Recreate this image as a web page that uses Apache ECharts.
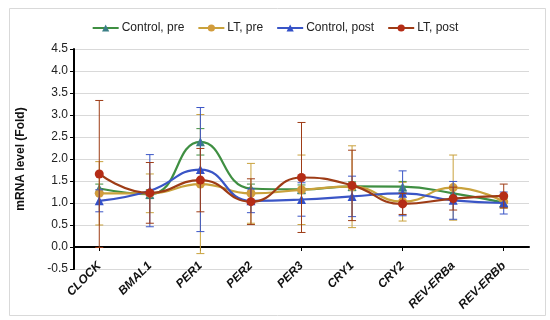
<!DOCTYPE html>
<html>
<head>
<meta charset="utf-8">
<script src="https://cdn.jsdelivr.net/npm/echarts@6/dist/echarts.min.js"></script>
<style>html,body{margin:0;padding:0;background:#fff;}#c{width:550px;height:320px;}</style>
</head>
<body>
<div id="c"></div>
<script>
var categories = ['CLOCK','BMAL1','PER1','PER2','PER3','CRY1','CRY2','REV-ERBa','REV-ERBb'];
var ctrlPre    = [1.33, 1.20, 2.39, 1.33, 1.31, 1.38, 1.37, 1.22, 1.01];
var ctrlPreSD  = [0.10, 0.10, 0.30, 0.10, 0.10, 0.10, 0.12, 0.10, 0.10];
var ltPre      = [1.22, 1.22, 1.43, 1.22, 1.30, 1.37, 1.03, 1.35, 1.03];
var ltPreSD    = [0.72, 0.44, 1.58, 0.68, 0.79, 0.93, 0.44, 0.74, 0.15];
var ctrlPost   = [1.05, 1.28, 1.76, 1.05, 1.08, 1.15, 1.22, 1.06, 1.00];
var ctrlPostSD = [0.25, 0.82, 1.41, 0.27, 0.38, 0.46, 0.51, 0.43, 0.25];
var ltPost     = [1.66, 1.23, 1.52, 1.03, 1.58, 1.40, 0.98, 1.10, 1.16];
var ltPostSD   = [1.67, 0.69, 0.72, 0.52, 1.25, 0.80, 0.24, 0.26, 0.27];
var yTicks = {min: -0.5, max: 4.5, interval: 0.5};

var FONT = 'Liberation Sans, Arial, sans-serif';
var seriesDefs = [
  {name: 'Control, pre',  vals: ctrlPre,  sd: ctrlPreSD,  line: '#3f8f42', mark: '#3a7f86', sym: 'triangle'},
  {name: 'LT, pre',       vals: ltPre,    sd: ltPreSD,    line: '#c9a23c', mark: '#d29c3c', sym: 'circle'},
  {name: 'Control, post', vals: ctrlPost, sd: ctrlPostSD, line: '#3a55c6', mark: '#3350c8', sym: 'triangle'},
  {name: 'LT, post',      vals: ltPost,   sd: ltPostSD,   line: '#9e3c16', mark: '#b52c16', sym: 'circle'}
];

function errSeries(def, z) {
  var data = def.vals.map(function (v, i) { return [i, v - def.sd[i], v + def.sd[i]]; });
  return {
    type: 'custom',
    name: def.name + ' err',
    xAxisIndex: 0,
    z: z,
    silent: true,
    data: data,
    encode: {x: 0, y: [1, 2]},
    renderItem: function (params, api) {
      var i = api.value(0);
      var lo = api.coord([i, api.value(1)]);
      var hi = api.coord([i, api.value(2)]);
      var w = 4;
      var st = {stroke: def.line, lineWidth: 1};
      return {
        type: 'group',
        children: [
          {type: 'line', shape: {x1: hi[0], y1: hi[1], x2: lo[0], y2: lo[1]}, style: st},
          {type: 'line', shape: {x1: hi[0] - w, y1: hi[1], x2: hi[0] + w, y2: hi[1]}, style: st},
          {type: 'line', shape: {x1: lo[0] - w, y1: lo[1], x2: lo[0] + w, y2: lo[1]}, style: st}
        ]
      };
    }
  };
}

var series = [];
seriesDefs.forEach(function (d, k) {
  series.push(errSeries(d, 2 + k * 2));
});
seriesDefs.forEach(function (d, k) {
  series.push({
    type: 'line',
    name: d.name,
    xAxisIndex: 0,
    data: d.vals,
    smooth: 0.5,
    z: 3 + k * 2,
    symbol: d.sym,
    symbolSize: 9,
    showAllSymbol: true,
    lineStyle: {color: d.line, width: 2.2},
    itemStyle: {color: d.mark, borderWidth: 0},
    emphasis: {disabled: true}
  });
});

var chart = echarts.init(document.getElementById('c'), null, {renderer: 'canvas'});
chart.setOption({
  animation: false,
  backgroundColor: '#fff',
  textStyle: {fontFamily: FONT},
  graphic: [{
    type: 'rect', left: 7, top: 6,
    shape: {width: 536, height: 307},
    style: {fill: 'none', stroke: '#d9d9d9', lineWidth: 1}, silent: true, z: -1
  }],
  legend: {
    data: seriesDefs.map(function (d) { return d.name; }),
    top: 17,
    left: 'center',
    itemWidth: 26,
    itemHeight: 9,
    itemGap: 13,
    textStyle: {fontFamily: FONT, fontSize: 12, color: '#222', padding: [0, 0, 0, -2]}
  },
  grid: {left: 74, right: 21, top: 49, bottom: 51, containLabel: false},
  xAxis: [{
    type: 'category',
    data: categories,
    position: 'bottom',
    boundaryGap: true,
    axisLine: {show: false, onZero: false},
    axisTick: {show: false},
    axisLabel: {
      rotate: 45, margin: -5, interval: 0,
      fontFamily: FONT, fontSize: 12, fontWeight: 'bold', fontStyle: 'italic', color: '#111'
    },
    splitLine: {show: false}
  }, {
    type: 'category',
    data: categories,
    position: 'top',
    boundaryGap: true,
    axisLine: {show: true, onZero: true, lineStyle: {color: '#000', width: 2}},
    axisTick: {show: true, inside: true, alignWithLabel: true, length: 4, lineStyle: {color: '#000', width: 1}},
    axisLabel: {show: false},
    splitLine: {show: false}
  }],
  yAxis: {
    type: 'value',
    min: yTicks.min, max: yTicks.max, interval: yTicks.interval,
    name: 'mRNA level (Fold)',
    nameLocation: 'middle',
    nameGap: 47,
    nameTextStyle: {fontFamily: FONT, fontSize: 12, fontWeight: 'bold', color: '#111'},
    axisLine: {show: true, onZero: false, lineStyle: {color: '#000', width: 2}},
    axisTick: {show: true, length: 4, lineStyle: {color: '#000'}},
    axisLabel: {fontFamily: FONT, fontSize: 12, color: '#222', margin: 6,
      formatter: function (v) { return v.toFixed(1); }},
    splitLine: {show: true, lineStyle: {color: '#d9d9d9', width: 1}}
  },
  series: series
});
</script>
</body>
</html>
